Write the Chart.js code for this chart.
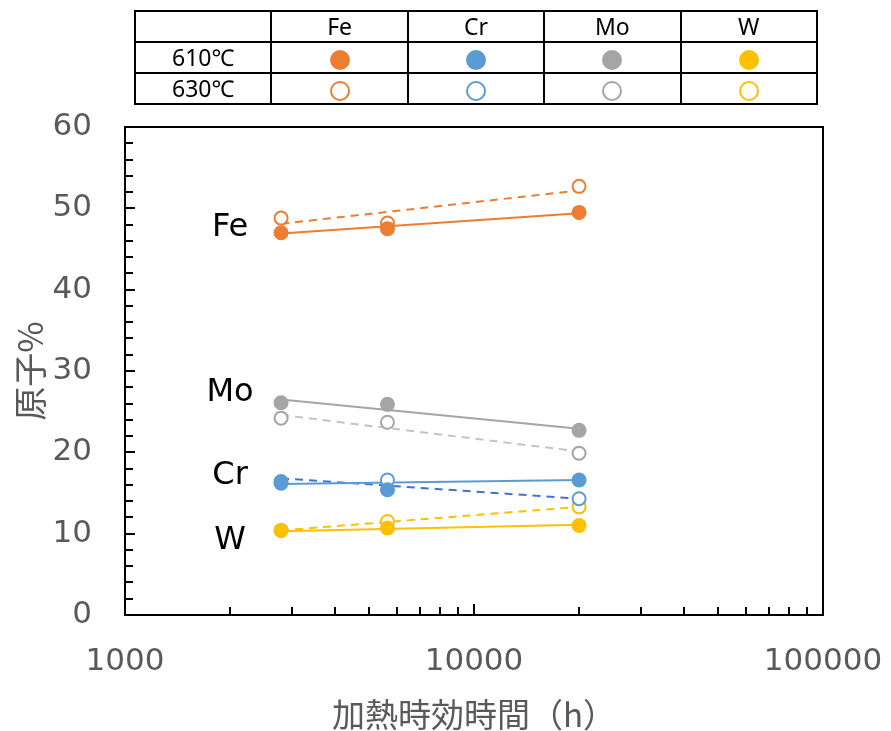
<!DOCTYPE html>
<html lang="ja">
<head>
<meta charset="utf-8">
<title>加熱時効時間と組成</title>
<script src="https://cdn.jsdelivr.net/npm/chart.js@4.4.1/dist/chart.umd.min.js"></script>
<style>
    body { margin: 0; background: #fff; overflow: hidden; }
    #wrap { position: relative; width: 891px; height: 731px; }
    #mainChart { position: absolute; left: 0; top: 0; }
    #legendTable {
        position: absolute; left: 134px; top: 10px;
        width: 684px; height: 93px;
        border-collapse: collapse; table-layout: fixed;
        color: #000;
    }
    #legendTable td {
        border: 2px solid #000; text-align: center; padding: 0; height: 29px; line-height: 29px;
        font-family: "Noto Sans", sans-serif; font-size: 23px;
    }
    .dot { display: inline-block; width: 20px; height: 20px; border-radius: 50%; vertical-align: middle; box-sizing: border-box; }
    .ring { background: #fff; border: 2px solid; }
</style>
</head>
<body>
<div id="wrap">
    <canvas id="mainChart" width="891" height="731"></canvas>
    <table id="legendTable">
        <tr><td></td><td>Fe</td><td>Cr</td><td>Mo</td><td>W</td></tr>
        <tr id="row610"><td>610℃</td></tr>
        <tr id="row630"><td>630℃</td></tr>
    </table>
</div>
<script>
// 加熱時効時間 (h)
const hours = [2800, 5650, 20000];

// 原子% : 610℃ (塗りつぶし) / 630℃ (白抜き)
const fe610 = [47.0, 47.5, 49.5];
const fe630 = [48.8, 48.2, 52.7];
const cr610 = [16.2, 15.4, 16.6];
const cr630 = [16.4, 16.6, 14.3];
const mo610 = [26.1, 25.9, 22.7];
const mo630 = [24.2, 23.7, 19.9];
const w610 = [10.4, 10.7, 11.0];
const w630 = [10.4, 11.5, 13.3];

// 近似線 (始点・終点の値)
const feTrend610 = [46.9, 49.4];
const feTrend630 = [48.1, 52.2];
const crTrend610 = [16.1, 16.6];
const crTrend630 = [16.8, 14.3];
const moTrend610 = [26.5, 22.9];
const moTrend630 = [24.6, 20.1];
const wTrend610 = [10.3, 11.1];
const wTrend630 = [10.4, 13.3];

const elements = ['Fe', 'Cr', 'Mo', 'W'];
const xTicks = [1000, 10000, 100000];

const colors = { Fe: '#ED7D31', Cr: '#5B9BD5', Mo: '#A5A5A5', W: '#FFC000' };
const dashColors = { Fe: '#ED7D31', Cr: '#4472C4', Mo: '#C4C4C4', W: '#FFC000' };

const series = {
    Fe: [fe610, fe630, feTrend610, feTrend630],
    Cr: [cr610, cr630, crTrend610, crTrend630],
    Mo: [mo610, mo630, moTrend610, moTrend630],
    W: [w610, w630, wTrend610, wTrend630]
};

// 凡例テーブルのマーカー
elements.forEach(el => {
    const c1 = document.createElement('td');
    c1.innerHTML = `<span class="dot" style="background:${colors[el]}"></span>`;
    document.getElementById('row610').appendChild(c1);
    const c2 = document.createElement('td');
    c2.innerHTML = `<span class="dot ring" style="border-color:${colors[el]}"></span>`;
    document.getElementById('row630').appendChild(c2);
});

function toPoints(values) {
    return values.map((v, i) => ({ x: hours[i], y: v }));
}

function trendPoints(ends) {
    return [{ x: hours[0], y: ends[0] }, { x: hours[hours.length - 1], y: ends[1] }];
}

const datasets = [];
elements.forEach(el => {
    const [s610, s630, t610, t630] = series[el];
    datasets.push({
        label: el + ' 610℃', data: toPoints(s610), showLine: false, order: 0,
        pointRadius: 7.5, pointBackgroundColor: colors[el], pointBorderColor: colors[el], pointBorderWidth: 0
    });
    datasets.push({
        label: el + ' 630℃', data: toPoints(s630), showLine: false, order: 0,
        pointRadius: 6.5, pointBackgroundColor: '#fff', pointBorderColor: colors[el], pointBorderWidth: 2
    });
    datasets.push({
        label: el + ' 610℃ 近似', data: trendPoints(t610), showLine: true, order: 1,
        borderColor: colors[el], borderWidth: 2, pointRadius: 0
    });
    datasets.push({
        label: el + ' 630℃ 近似', data: trendPoints(t630), showLine: true, order: 1,
        borderColor: dashColors[el], borderWidth: 2, borderDash: [8, 6], pointRadius: 0
    });
});

// 枠線と内向きの目盛り
const frameTicks = {
    id: 'frameTicks',
    afterDraw(chart) {
        const { ctx, chartArea: a, scales: { x, y } } = chart;
        ctx.save();
        ctx.strokeStyle = '#000';
        ctx.lineWidth = 2;
        ctx.strokeRect(a.left, a.top, a.right - a.left, a.bottom - a.top);
        ctx.beginPath();
        for (let v = 2; v < 60; v += 2) {
            const py = Math.round(y.getPixelForValue(v));
            const len = v % 10 === 0 ? 10 : 8;
            ctx.moveTo(a.left, py);
            ctx.lineTo(a.left + len, py);
        }
        [1000, 10000].forEach(d => {
            for (let m = 2; m <= 9; m++) {
                const px = Math.round(x.getPixelForValue(d * m));
                ctx.moveTo(px, a.bottom);
                ctx.lineTo(px, a.bottom - 8);
            }
        });
        const p10k = Math.round(x.getPixelForValue(10000));
        ctx.moveTo(p10k, a.bottom);
        ctx.lineTo(p10k, a.bottom - 11);
        ctx.stroke();
        ctx.restore();
    }
};

// 元素名のラベル
const elementLabels = {
    id: 'elementLabels',
    afterDatasetsDraw(chart) {
        const { ctx, scales: { x, y } } = chart;
        const spots = { Fe: 47.6, Mo: 27.3, Cr: 17.1, W: 9.1 };
        ctx.save();
        ctx.font = '32px "DejaVu Sans"';
        ctx.fillStyle = '#000';
        ctx.textAlign = 'center';
        ctx.textBaseline = 'middle';
        Object.keys(spots).forEach(el => {
            ctx.fillText(el, x.getPixelForValue(2000), y.getPixelForValue(spots[el]));
        });
        ctx.restore();
    }
};

const tickFont = { family: '"DejaVu Sans"', size: 31 };

new Chart(document.getElementById('mainChart'), {
    type: 'scatter',
    data: { datasets: datasets },
    options: {
        responsive: false,
        animation: false,
        layout: { padding: { left: 0, right: 68, top: 127, bottom: 0 } },
        plugins: { legend: { display: false }, tooltip: { enabled: false } },
        scales: {
            x: {
                type: 'logarithmic',
                min: 1000,
                max: 100000,
                afterBuildTicks: scale => { scale.ticks = xTicks.map(v => ({ value: v })); },
                afterFit: scale => {
                    scale.height = 116;
                    scale.paddingLeft = 0;
                    scale.paddingRight = 0;
                },
                grid: { display: false, drawTicks: false },
                border: { display: false },
                ticks: { color: '#595959', font: tickFont, padding: 28, maxRotation: 0, autoSkip: false, callback: v => String(v) },
                title: {
                    display: true, text: '加熱時効時間（h）', color: '#595959',
                    font: { family: '"Noto Sans CJK JP"', size: 33, lineHeight: 1.0 }, padding: { top: 0, bottom: 0 }
                }
            },
            y: {
                min: 0,
                max: 60,
                afterFit: scale => { scale.width = 125; },
                grid: { display: false, drawTicks: false },
                border: { display: false },
                ticks: { stepSize: 10, color: '#595959', font: tickFont, padding: 33 },
                title: {
                    display: true, text: '原子%', color: '#595959',
                    font: { family: '"Noto Sans CJK JP"', size: 34, lineHeight: 1.0 }, padding: { top: 13, bottom: 0 }
                }
            }
        }
    },
    plugins: [frameTicks, elementLabels]
});
</script>
</body>
</html>
